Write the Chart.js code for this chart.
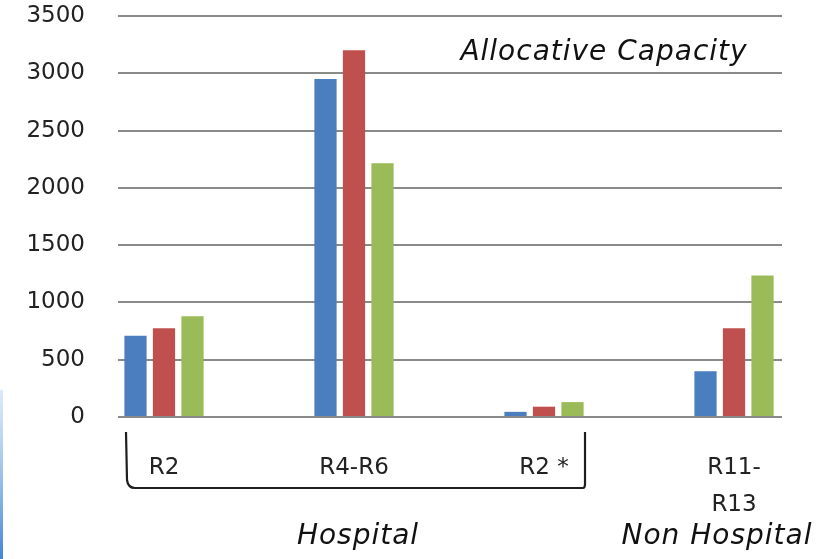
<!DOCTYPE html>
<html lang="en">
<head>
  <meta charset="UTF-8">
  <title>Allocative Capacity</title>
  <script src="https://cdn.jsdelivr.net/npm/chart.js"></script>
  <style>
    body {
      margin: 0;
      background: #fff;
    }
    #wrap {
      width: 821px;
      height: 559px;
      position: relative;
    }
  </style>
</head>
<body>

  <div id="wrap">
    <canvas id="capChart"></canvas>
  </div>

  <script>
    // categories (x positions 0..3)
    const categories = ['R2', 'R4-R6', 'R2 *', ['R11-', 'R13']];
    const blueVals = [710, 2950, 45, 400];
    const redVals = [775, 3200, 90, 775];
    const greenVals = [880, 2215, 130, 1235];
    const yTicks = [0, 500, 1000, 1500, 2000, 2500, 3000, 3500];

    const FONT = 'DejaVu Sans, sans-serif';

    function toPoints(vals) {
      return vals.map((v, i) => ({ x: i, y: v }));
    }

    // brace, group names and chart title
    const notes = {
      id: 'notes',
      afterDraw(chart) {
        const ctx = chart.ctx;
        const x = chart.scales.x;
        ctx.save();

        // blue edge at bottom left
        const g = ctx.createLinearGradient(0, 390, 0, 559);
        g.addColorStop(0, 'rgba(140,185,235,0.3)');
        g.addColorStop(1, '#3f86d6');
        ctx.fillStyle = g;
        ctx.fillRect(0, 390, 3, 169);

        // brace under the hospital groups
        const left = x.getPixelForValue(0) - 38;
        const right = x.getPixelForValue(2) + 41;
        ctx.strokeStyle = '#1e1e1e';
        ctx.lineWidth = 2.2;
        ctx.beginPath();
        ctx.moveTo(left, 432);
        ctx.lineTo(left + 1, 480);
        ctx.quadraticCurveTo(left + 2, 488, left + 9, 488);
        ctx.lineTo(right - 2, 488);
        ctx.quadraticCurveTo(right, 488, right, 484);
        ctx.lineTo(right, 432);
        ctx.stroke();

        ctx.fillStyle = '#111';
        ctx.textAlign = 'center';
        ctx.textBaseline = 'middle';
        ctx.letterSpacing = '1px';
        ctx.font = 'italic 28px ' + FONT;
        ctx.fillText('Allocative Capacity', 604, 53);
        ctx.fillText('Hospital', 358, 537);
        ctx.fillText('Non Hospital', 717, 537);
        ctx.restore();
      }
    };

    new Chart(document.getElementById('capChart'), {
      type: 'bar',
      data: {
        datasets: [
          { data: toPoints(blueVals), backgroundColor: '#4a7ebf' },
          { data: toPoints(redVals), backgroundColor: '#c0504d' },
          { data: toPoints(greenVals), backgroundColor: '#9bbb59' }
        ]
      },
      options: {
        responsive: true,
        maintainAspectRatio: false,
        animation: false,
        categoryPercentage: 0.45,
        barPercentage: 0.78,
        layout: { padding: { top: 16, right: 39, left: 0, bottom: 0 } },
        plugins: {
          legend: { display: false },
          tooltip: { enabled: false }
        },
        scales: {
          x: {
            type: 'linear',
            offset: false,
            min: -0.2421,
            max: 3.2526,
            grid: { display: false },
            border: { display: false },
            afterFit(scale) { scale.height = 142; },
            ticks: {
              stepSize: 1,
              includeBounds: false,
              autoSkip: false,
              maxRotation: 0,
              padding: 24,
              color: '#222',
              font: { family: FONT, size: 23, lineHeight: 1.62 },
              callback: v => Number.isInteger(v) ? categories[v] : ''
            }
          },
          y: {
            min: 0,
            max: 3500,
            afterFit(scale) {
              scale.width = 118;
              scale.paddingTop = 14;
              scale.paddingBottom = 0;
            },
            afterBuildTicks(scale) { scale.ticks = yTicks.map(v => ({ value: v })); },
            grid: { color: '#8a8a8a', lineWidth: 2, drawTicks: false },
            border: { display: false },
            ticks: {
              padding: 33,
              color: '#222',
              font: { family: FONT, size: 23 },
              callback: v => String(v)
            }
          }
        }
      },
      plugins: [notes]
    });
  </script>
</body>
</html>
